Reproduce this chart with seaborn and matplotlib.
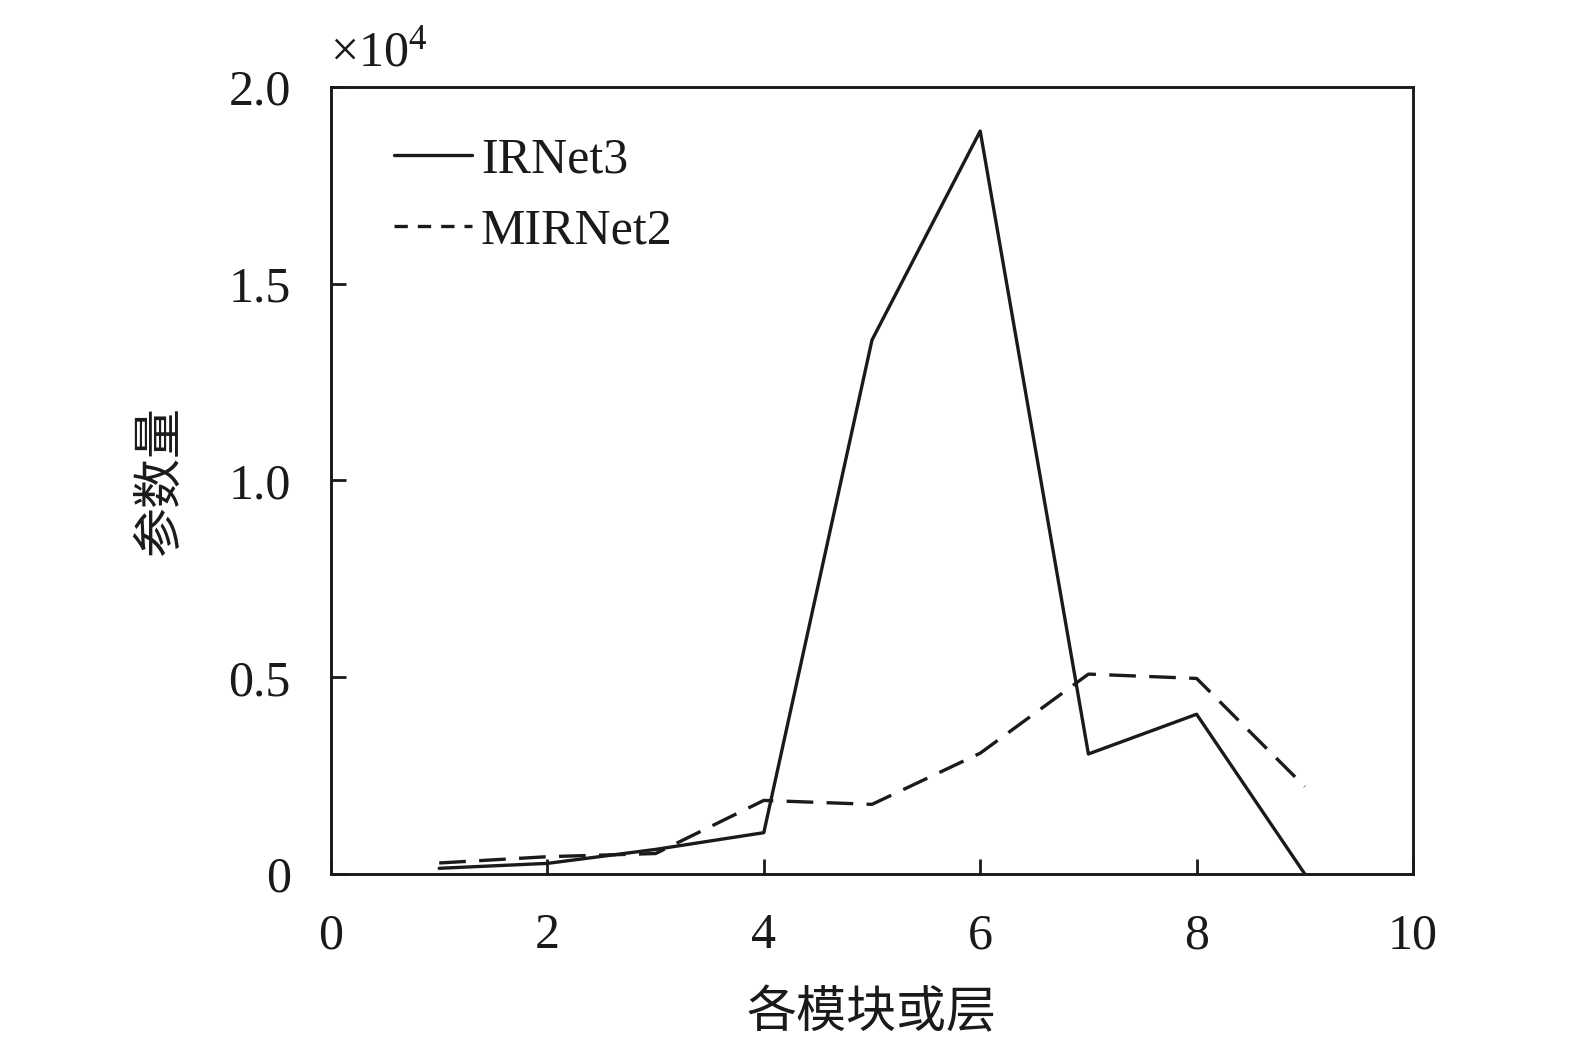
import numpy as np
import pandas as pd
import matplotlib
matplotlib.use("Agg")
import matplotlib.pyplot as plt
from matplotlib.lines import Line2D
import seaborn as sns

# ---- data (parameter counts per module / layer) ----
layers = [1, 2, 3, 4, 5, 6, 7, 8, 9]
irnet3 = [145, 270, 625, 1050, 13570, 18880, 3050, 4060, 0]
mirnet2 = [280, 440, 520, 1870, 1770, 3070, 5080, 4970, 2220]
series_names = ["IRNet3", "MIRNet2"]
xticks = [0, 2, 4, 6, 8, 10]
yticks = [0, 5000, 10000, 15000, 20000]
ytick_labels = ["0", "0.5", "1.0", "1.5", "2.0"]

df = pd.DataFrame({
    "layer": layers * 2,
    "params": irnet3 + mirnet2,
    "model": [series_names[0]] * len(layers) + [series_names[1]] * len(layers),
})

sns.set_theme(style="white")
fams = ["Liberation Serif", "Noto Sans CJK SC", "DejaVu Sans"]
plt.rcParams["font.family"] = fams
plt.rcParams["mathtext.fontset"] = "custom"
plt.rcParams["mathtext.rm"] = "Liberation Serif"
plt.rcParams["mathtext.it"] = "Liberation Serif:italic"

fig = plt.figure(figsize=(15.75, 10.41), dpi=100)
ax = fig.add_axes([331 / 1575, 1 - 874 / 1041, (1413 - 331) / 1575, (874 - 87) / 1041])

lw = 2.4
sns.lineplot(data=df, x="layer", y="params", style="model",
             dashes={"IRNet3": "", "MIRNet2": (8, 4)},
             color="#1a1a1a", linewidth=lw, legend=False, ax=ax)

ax.set_xlim(0, 10)
ax.set_ylim(0, 20000)
ax.set_xticks(xticks)
ax.set_xticklabels([str(t) for t in xticks])
ax.set_yticks(yticks)
ax.set_yticklabels(ytick_labels)

for s in ax.spines.values():
    s.set_color("#1a1a1a")
    s.set_linewidth(2.1)
    s.set_visible(True)

ax.tick_params(axis="both", direction="in", length=11, width=2.0, color="#1a1a1a",
               labelsize=36, labelcolor="#1a1a1a")
ax.tick_params(axis="x", pad=28, bottom=True, top=False)
ax.tick_params(axis="y", pad=29, left=True, right=False)

ax.set_xlabel("各模块或层", fontsize=36, color="#1a1a1a", family=fams)
ax.set_ylabel("参数量", fontsize=36, color="#1a1a1a", family=fams)
ax.xaxis.set_label_coords(0.5, -0.149)
ax.yaxis.set_label_coords(-0.135, 0.5)

fig.text(330 / 1575, 1 - 66 / 1041, r"$\times10^{4}$", fontsize=36,
         color="#1a1a1a", ha="left", va="baseline")

handles = [
    Line2D([], [], color="#1a1a1a", linewidth=lw, linestyle="-"),
    Line2D([], [], color="#1a1a1a", linewidth=lw, linestyle=(0, (4, 3))),
]
leg = ax.legend(handles, series_names, loc="upper left",
                bbox_to_anchor=(0.058, 0.937), frameon=False,
                fontsize=36, handlelength=1.56, handletextpad=0.18,
                labelspacing=0.5, borderpad=0, borderaxespad=0)
for t in leg.get_texts():
    t.set_color("#1a1a1a")

fig.savefig("out.png", dpi=100, facecolor="white")
